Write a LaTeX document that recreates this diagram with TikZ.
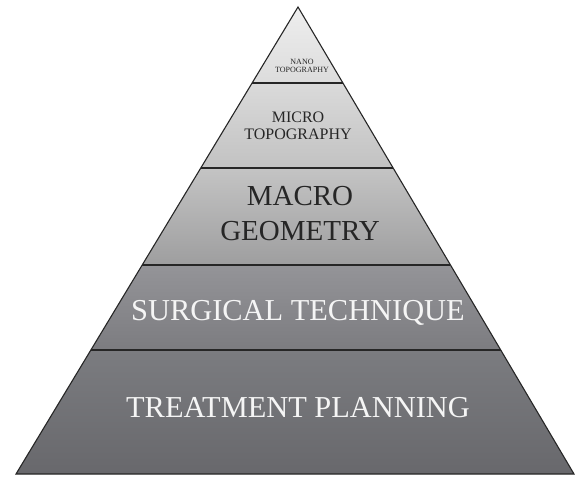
\documentclass[tikz,border=0pt]{standalone}
\usepackage{fontspec}
\setmainfont{Liberation Serif}
\usetikzlibrary{calc}
\definecolor{nanotop}{HTML}{EEEEEE}
\definecolor{nanobot}{HTML}{DCDCDC}
\definecolor{microtop}{HTML}{DADADA}
\definecolor{microbot}{HTML}{C2C2C2}
\definecolor{macrotop}{HTML}{C4C4C4}
\definecolor{macrobot}{HTML}{9E9E9F}
\definecolor{surgtop}{HTML}{949498}
\definecolor{surgbot}{HTML}{7C7C80}
\definecolor{treattop}{HTML}{7B7C80}
\definecolor{treatbot}{HTML}{68686C}
\tikzset{
  band/.style={draw=black!85, line width=1.1pt},
  darklabel/.style={text=black!85, align=center, inner sep=0pt},
  lightlabel/.style={text=white!96!black, align=center, inner sep=0pt},
}
\begin{document}
\begin{tikzpicture}[x=1pt,y=-1pt]
  \useasboundingbox (0,0) rectangle (575,477);
  \coordinate (apex) at (298,7);
  \coordinate (bl) at (16,474);
  \coordinate (br) at (574,474);
  \foreach \n/\t in {1/0.1627,2/0.3448,3/0.5525,4/0.7345}{
    \coordinate (l\n) at ($(apex)!\t!(bl)$);
    \coordinate (r\n) at ($(apex)!\t!(br)$);
  }
  % layers, top to bottom
  \shade[top color=nanotop, bottom color=nanobot] (apex) -- (r1) -- (l1) -- cycle;
  \shade[top color=microtop, bottom color=microbot] (l1) -- (r1) -- (r2) -- (l2) -- cycle;
  \shade[top color=macrotop, bottom color=macrobot] (l2) -- (r2) -- (r3) -- (l3) -- cycle;
  \shade[top color=surgtop, bottom color=surgbot] (l3) -- (r3) -- (r4) -- (l4) -- cycle;
  \shade[top color=treattop, bottom color=treatbot] (l4) -- (r4) -- (br) -- (bl) -- cycle;
  % outline and dividers
  \draw[band, line join=miter] (apex) -- (br) -- (bl) -- cycle;
  \foreach \n in {1,...,4}
    \draw[band] (l\n) -- (r\n);
  % labels
  \node[darklabel, font=\fontsize{8}{8.5}\selectfont] (nano) at (302,66) {NANO\\TOPOGRAPHY};
  \node[darklabel, font=\fontsize{16}{17}\selectfont] (micro) at (298,126) {MICRO\\TOPOGRAPHY};
  \node[darklabel, font=\fontsize{29}{35}\selectfont] (macro) at (300,214) {MACRO\\GEOMETRY};
  \node[lightlabel, font=\fontsize{30.4}{36}\selectfont] (surgical) at (298,313) {SURGICAL TECHNIQUE};
  \node[lightlabel, font=\fontsize{30.4}{36}\selectfont] (treatment) at (298,408) {TREATMENT PLANNING};
\end{tikzpicture}
\end{document}
